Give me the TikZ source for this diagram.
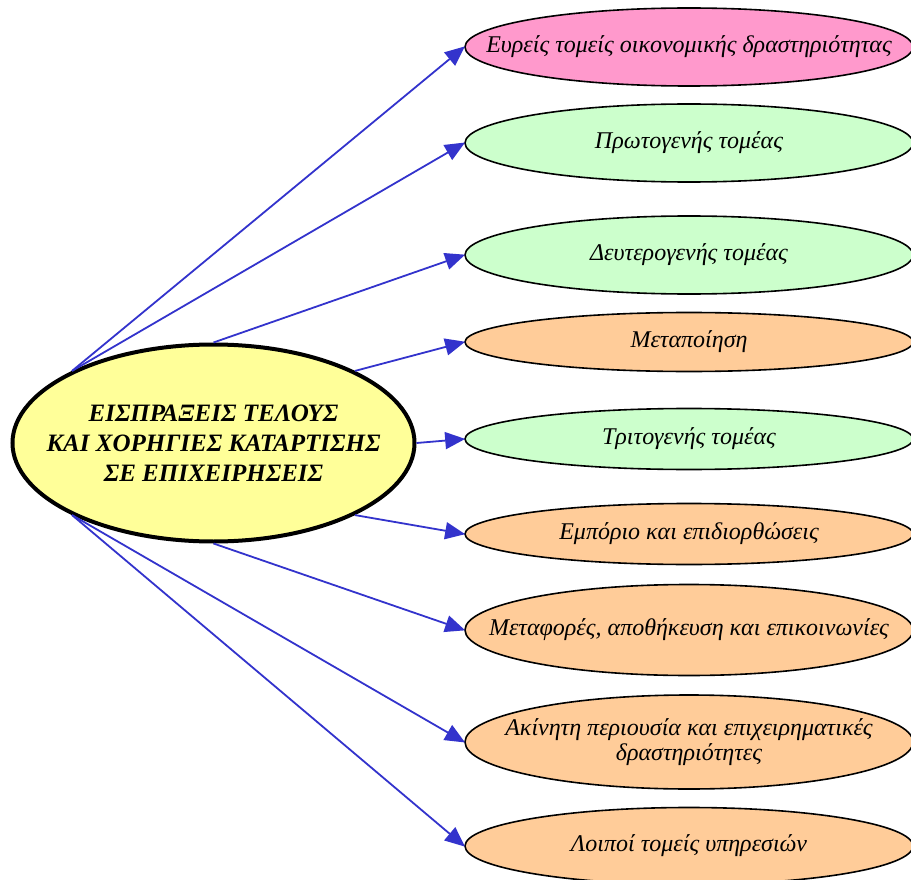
\documentclass[tikz,border=0pt]{standalone}
\usepackage{fontspec}
\setmainfont{Liberation Serif}
\usetikzlibrary{shapes.geometric,arrows.meta}
\definecolor{pinkc}{HTML}{FF99CC}
\definecolor{greenc}{HTML}{CCFFCC}
\definecolor{orangec}{HTML}{FFCC99}
\definecolor{yellowc}{HTML}{FFFF99}
\definecolor{edgec}{HTML}{3333CC}
\begin{document}
\begin{tikzpicture}[x=1pt,y=-1pt,
  rnode/.style={ellipse,draw=black,line width=1.6pt,fill=#1,minimum width=448pt,inner sep=0pt},
  lbl/.style={align=center,font=\fontsize{24}{25}\selectfont\itshape},
  centre/.style={ellipse,draw=black,line width=4pt,fill=yellowc,minimum width=402pt,minimum height=197pt,inner sep=0pt},
  clbl/.style={align=center,font=\fontsize{25}{30}\selectfont\bfseries\itshape},
  edge/.style={draw=edgec,line width=1.8pt,-{Triangle[length=20pt,width=17pt]},shorten >=-1pt}]
\useasboundingbox (0,0) rectangle (911,880);
\node[centre,label={[clbl]center:{ΕΙΣΠΡΑΞΕΙΣ ΤΕΛΟΥΣ\\ΚΑΙ ΧΟΡΗΓΙΕΣ ΚΑΤΑΡΤΙΣΗΣ\\ΣΕ ΕΠΙΧΕΙΡΗΣΕΙΣ}}] (c) at (213.5,443) {};
\node[rnode=pinkc,minimum height=78pt,label={[lbl]center:Ευρείς τομείς οικονομικής δραστηριότητας}] (r1) at (689,47) {};
\node[rnode=greenc,minimum height=78pt,label={[lbl]center:Πρωτογενής τομέας}] (r2) at (689,143) {};
\node[rnode=greenc,minimum height=78pt,label={[lbl]center:Δευτερογενής τομέας}] (r3) at (689,255) {};
\node[rnode=orangec,minimum height=59pt,label={[lbl]center:Μεταποίηση}] (r4) at (689,342) {};
\node[rnode=greenc,minimum height=61pt,label={[lbl]center:Τριτογενής τομέας}] (r5) at (689,439) {};
\node[rnode=orangec,minimum height=61pt,label={[lbl]center:Εμπόριο και επιδιορθώσεις}] (r6) at (689,534) {};
\node[rnode=orangec,minimum height=91pt,label={[lbl]center:Μεταφορές, αποθήκευση και επικοινωνίες}] (r7) at (689,630) {};
\node[rnode=orangec,minimum height=94pt,label={[lbl]center:{Ακίνητη περιουσία και επιχειρηματικές\\δραστηριότητες}}] (r8) at (689,742) {};
\node[rnode=orangec,minimum height=77pt,label={[lbl]center:Λοιποί τομείς υπηρεσιών}] (r9) at (689,846) {};
\draw[edge] (c.153) -- (r1.west);
\draw[edge] (c.153) -- (r2.west);
\draw[edge] (c.90) -- (r3.west);
\draw[edge] (c.27) -- (r4.west);
\draw[edge] (c.0) -- (r5.west);
\draw[edge] (c.-27) -- (r6.west);
\draw[edge] (c.-90) -- (r7.west);
\draw[edge] (c.-153) -- (r8.west);
\draw[edge] (c.-153) -- (r9.west);
\end{tikzpicture}
\end{document}
